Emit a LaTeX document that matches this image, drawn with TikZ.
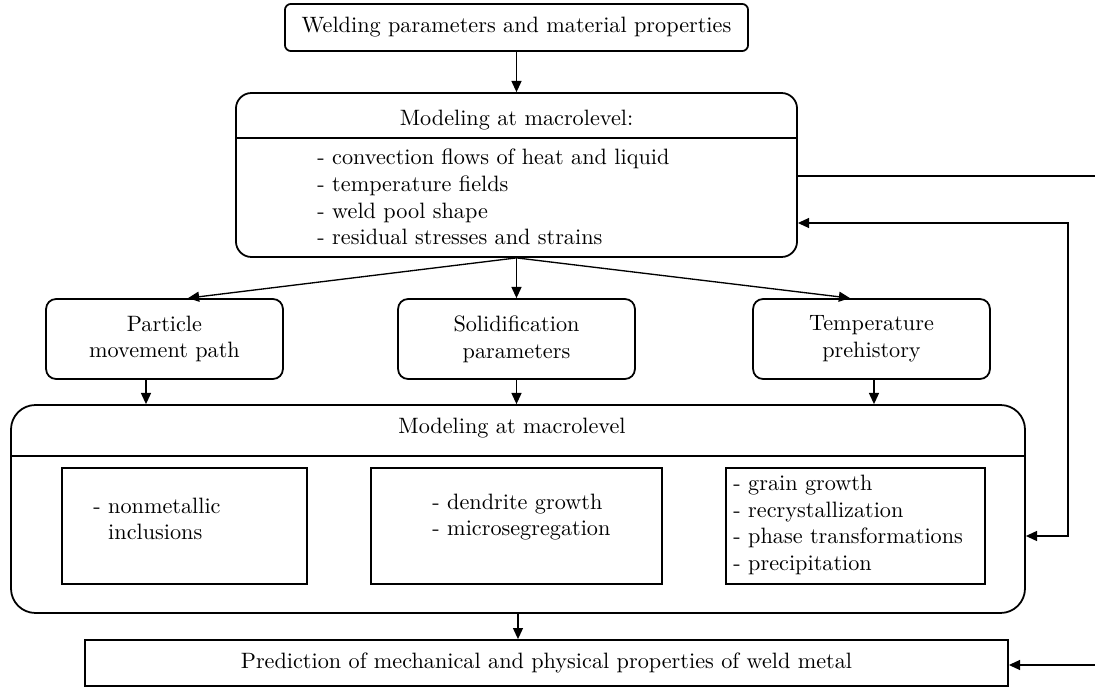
\documentclass[tikz,border=0pt]{standalone}
\usetikzlibrary{arrows.meta,positioning,calc}

\begin{document}
\begin{tikzpicture}[x=0.45pt, y=-0.45pt,
    block/.style={rectangle, draw, line width=0.8pt, inner sep=0pt, align=center},
    bigbox/.style={block, rounded corners=7pt},
    stage/.style={block, rounded corners=4.5pt, minimum width=106.6pt, minimum height=36pt},
    inbox/.style={block, minimum height=52.2pt},
    items/.style={inner sep=0pt, align=left, anchor=west},
    arrow/.style={-{Triangle[length=5pt,width=4.5pt]}, line width=0.6pt},
    twoway/.style={{Triangle[length=5pt,width=4.5pt]}-{Triangle[length=5pt,width=4.5pt]}, line width=0.6pt}
]
\useasboundingbox (0,0) rectangle (1095,688);

% Input
\node[block, rounded corners=2.7pt, minimum width=208.4pt, minimum height=21.2pt] (input) at (516.5,27.5)
    {Welding parameters and material properties};

% Macrolevel model
\node[bigbox, minimum width=252.5pt, minimum height=73.8pt] (macro) at (516.5,175) {};
\node (macrotitle) at (516.5,120) {Modeling at macrolevel:};
\coordinate (macrosep) at (516.5,138);
\draw[line width=0.8pt] (macro.west |- macrosep) -- (macro.east |- macrosep);
\node[items] (macroitems) at (317,197) {- convection flows of heat and liquid\\
    - temperature fields\\ - weld pool shape\\ - residual stresses and strains};

% Intermediate results
\node[stage] (particle) at (164.5,339) {Particle\\ movement path};
\node[stage] (solid) at (516.5,339) {Solidification\\ parameters};
\node[stage] (prehist) at (871.5,339) {Temperature\\ prehistory};

% Microlevel model
\node[bigbox, rounded corners=11pt, minimum width=456.3pt, minimum height=93.6pt] (micro) at (518,509) {};
\node (microtitle) at (512,428) {Modeling at macrolevel};
\coordinate (microsep) at (518,456);
\draw[line width=0.8pt] (micro.west |- microsep) -- (micro.east |- microsep);
\node[inbox, minimum width=110.3pt] (inclus) at (184.5,526) {};
\node[inbox, minimum width=131pt] (dendr) at (516.5,526) {};
\node[inbox, minimum width=116.6pt] (grain) at (855.5,526) {};
\node[items] (inclustext) at (93,519) {- nonmetallic\\ \phantom{- }inclusions};
\node[items] (dendrtext) at (432,517) {- dendrite growth\\ - microsegregation};
\node[items] (graintext) at (733,525) {- grain growth\\ - recrystallization\\
    - phase transformations\\ - precipitation};

% Output
\node[block, minimum width=415.4pt, minimum height=20.7pt] (predict) at (546.5,663)
    {Prediction of mechanical and physical properties of weld metal};

% Connections
\coordinate (partin) at ($(particle.north)+(23.5,0)$);
\coordinate (prehin) at ($(prehist.north)+(-21.5,0)$);
\coordinate (partout) at ($(particle.south)+(-18.5,0)$);
\coordinate (prehout) at ($(prehist.south)+(2.5,0)$);
\draw[arrow] (input) -- (macro);
\draw[arrow] (macro.south) -- (partin);
\draw[arrow] (macro.south) -- (solid.north);
\draw[arrow] (macro.south) -- (prehin);
\draw[arrow] (partout) -- (partout |- micro.north);
\draw[arrow] (solid.south) -- (solid.south |- micro.north);
\draw[arrow] (prehout) -- (prehout |- micro.north);
\draw[arrow] (micro.south) -- (micro.south |- predict.north);

% Right side links
\coordinate (macroout) at (1095,176);
\coordinate (fbtop) at (1068,223);
\coordinate (fbbot) at (1068,536);
\coordinate (predin) at (1095,665);
\draw[line width=0.6pt] (macro.east |- macroout) -- (macroout);
\draw[twoway] (macro.east |- fbtop) -- (fbtop) -- (fbbot) -- (micro.east |- fbbot);
\draw[arrow] (predin) -- (predict.east |- predin);

\end{tikzpicture}
\end{document}
